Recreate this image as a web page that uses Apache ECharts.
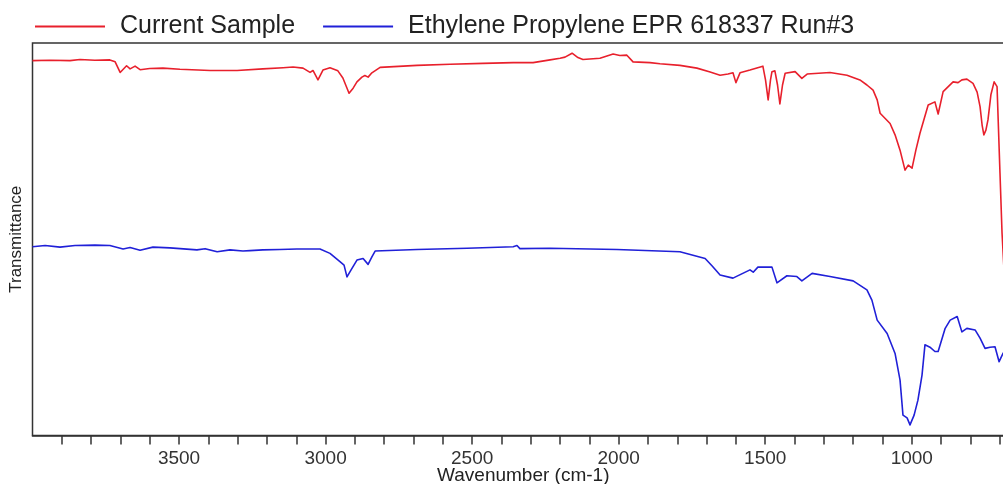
<!DOCTYPE html>
<html>
<head>
<meta charset="utf-8">
<script src="https://cdn.jsdelivr.net/npm/echarts@6/dist/echarts.min.js"></script>
<style>
html,body{margin:0;padding:0;background:#fff;}
#chart{width:1003px;height:484px;}
</style>
</head>
<body>
<div id="chart"></div>
<script>
// Wavenumber (cm-1) and transmittance (arbitrary, offset units 0-100)
const seriesNames = ['Current Sample', 'Ethylene Propylene EPR 618337 Run#3'];

const currentSampleX = [4000,3940,3872,3838,3787,3736,3718,3701,3679,3667,
  3650,3633,3600,3555,3497,3394,3302,3214,3145,3111,
  3077,3053,3043,3026,3009,2985,2958,2941,2920,2906,
  2893,2876,2866,2855,2842,2814,2688,2575,2463,2360,
  2292,2234,2200,2183,2159,2139,2122,2064,2040,2019,
  1996,1972,1951,1893,1859,1791,1733,1688,1654,1627,
  1610,1600,1586,1552,1508,1499,1490,1482,1477,1467,
  1458,1450,1441,1432,1398,1375,1357,1279,1221,1177,
  1153,1132,1118,1108,1074,1057,1040,1023,1012,999,
  986,972,944,921,910,893,859,842,829,812,
  791,777,767,760,754,747,740,730,719,709,
  699,692,680];
const currentSampleY = [95.5,95.6,95.5,95.8,95.6,95.7,95.2,92.5,94.2,93.4,
  94.1,93.2,93.5,93.6,93.3,93.0,93.0,93.4,93.7,93.9,
  93.6,92.5,93.0,90.6,93.1,93.7,92.9,91.1,87.2,88.5,
  90.1,91.3,91.7,91.3,92.4,93.8,94.3,94.6,94.8,95.0,
  95.0,95.7,96.1,96.4,97.4,96.3,95.8,96.1,96.7,97.2,
  96.8,96.9,95.2,95.0,94.7,94.3,93.6,92.6,91.8,92.1,
  92.4,89.9,92.4,93.1,94.1,90.6,85.5,90.6,92.7,92.9,
  89.3,84.5,89.3,92.3,92.7,91.0,92.1,92.5,91.8,90.6,
  89.3,88.0,85.5,82.1,79.5,76.6,72.7,67.6,68.9,68.1,
  72.7,77.0,84.2,85.0,81.9,87.6,90.1,89.9,90.6,90.8,
  89.7,87.5,83.8,79.1,76.6,77.8,80.4,86.8,90.1,88.9,
  66.9,51.6,35];

const eprX = [4000,3957,3906,3855,3787,3736,3691,3667,3633,3589,
  3531,3439,3411,3370,3326,3282,3258,3214,3156,3098,
  3019,2985,2951,2937,2927,2913,2893,2872,2855,2842,
  2831,2688,2517,2360,2347,2337,2234,2006,1791,1705,
  1681,1654,1610,1552,1541,1525,1477,1460,1426,1392,
  1375,1340,1279,1200,1153,1136,1118,1084,1057,1040,
  1030,1016,1006,992,979,965,955,938,921,910,
  886,869,845,829,812,784,767,750,733,716,
  702,689,680];
const eprY = [48.1,48.4,48.0,48.4,48.5,48.4,47.5,47.9,47.2,48.0,
  47.8,47.3,47.6,46.8,47.3,47.0,47.1,47.3,47.4,47.5,
  47.5,46.4,44.3,43.4,40.4,42.2,44.7,45.1,43.6,45.5,
  47.0,47.4,47.7,48.1,48.4,47.6,47.7,47.4,46.8,45.1,
  43.2,40.9,40.1,42.2,41.6,42.9,42.9,38.9,40.7,40.5,
  39.4,41.3,40.5,39.4,37.1,34.5,29.4,26.0,20.9,14.1,
  5.2,4.5,2.7,5.2,9.0,15.4,23.1,22.5,21.4,21.4,
  27.3,29.4,30.3,26.4,27.3,26.9,24.8,22.2,22.5,22.6,
  18.8,20.9,21.5];

const tickValues = [3900,3800,3700,3600,3500,3400,3300,3200,3100,3000,2900,2800,2700,2600,2500,
  2400,2300,2200,2100,2000,1900,1800,1700,1600,1500,1400,1300,1200,1100,1000,900,800,700,600];
const labelValues = [3500,3000,2500,2000,1500,1000];

const zip = (xs, ys) => xs.map((x, i) => [x, ys[i]]);
const FONT = '"Liberation Sans", Arial, sans-serif';

const chart = echarts.init(document.getElementById('chart'), null, {renderer: 'canvas'});
chart.setOption({
  animation: false,
  backgroundColor: '#fff',
  textStyle: {fontFamily: FONT},
  legend: {
    left: 30, top: 9,
    itemWidth: 70, itemHeight: 2, itemGap: 28,
    icon: 'rect',
    textStyle: {fontSize: 25, color: '#222', fontFamily: FONT, padding: [0, 0, 0, 10]},
    data: seriesNames
  },
  grid: {
    left: 32.5, top: 43, width: 996.5, height: 392.5,
    outerBoundsMode: 'none',
    show: true, borderColor: '#333', borderWidth: 1.5, containLabel: false
  },
  xAxis: {
    type: 'value', inverse: true, min: 600, max: 4000,
    name: 'Wavenumber (cm-1)', nameLocation: 'middle', nameGap: 31, nameMoveOverlap: false,
    nameTextStyle: {fontSize: 19, color: '#222', fontFamily: FONT, padding: [0, 15, 0, 0]},
    axisLine: {show: true, lineStyle: {color: '#333', width: 1.5}},
    axisTick: {show: true, length: 9, customValues: tickValues, lineStyle: {color: '#333', width: 1.5}},
    axisLabel: {show: true, customValues: labelValues, margin: 14, fontSize: 19, color: '#333', fontFamily: FONT,
      formatter: v => String(v)},
    splitLine: {show: false}
  },
  yAxis: {
    type: 'value', min: 0, max: 100,
    name: 'Transmittance', nameLocation: 'middle', nameGap: 8,
    nameTextStyle: {fontSize: 17, color: '#222', fontFamily: FONT},
    axisLine: {show: false}, axisTick: {show: false}, axisLabel: {show: false},
    splitLine: {show: false}
  },
  series: [
    {
      name: seriesNames[0], type: 'line', showSymbol: false, symbol: 'none',
      data: zip(currentSampleX, currentSampleY),
      lineStyle: {color: '#e8202c', width: 1.6, join: 'round'},
      itemStyle: {color: '#e8202c'}
    },
    {
      name: seriesNames[1], type: 'line', showSymbol: false, symbol: 'none',
      data: zip(eprX, eprY),
      lineStyle: {color: '#2020d8', width: 1.6, join: 'round'},
      itemStyle: {color: '#2020d8'}
    }
  ]
});
</script>
</body>
</html>
